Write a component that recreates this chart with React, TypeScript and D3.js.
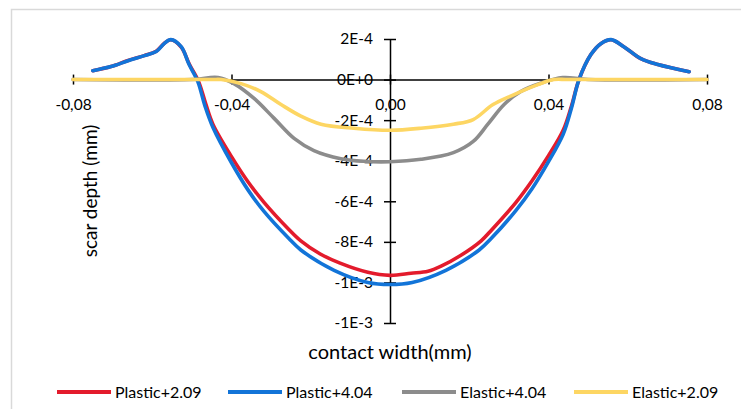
import { useEffect, useRef } from 'react'
import * as d3 from 'd3'

// contact width (mm) vs scar depth (mm)
const plastic209: [number, number][] = [
  [-0.075, 4.4e-5], [-0.0704, 6.4e-5], [-0.0661, 9.4e-5], [-0.062, 1.18e-4], [-0.059, 1.4e-4],
  [-0.057, 1.78e-4], [-0.0553, 1.96e-4], [-0.0527, 1.6e-4], [-0.0506, 7.4e-5], [-0.0483, -1e-5],
  [-0.0465, -1.2e-4], [-0.0447, -2.2e-4], [-0.04, -3.8e-4], [-0.0358, -5.05e-4], [-0.0318, -6.05e-4],
  [-0.0257, -7.35e-4], [-0.0225, -7.95e-4], [-0.0176, -8.6e-4], [-0.0126, -9.05e-4], [-0.0056, -9.5e-4],
  [0, -9.65e-4], [0.0053, -9.55e-4], [0.0096, -9.45e-4], [0.0129, -9.2e-4], [0.018, -8.65e-4],
  [0.023, -7.95e-4], [0.0257, -7.4e-4], [0.0318, -6.05e-4], [0.0358, -5.0e-4], [0.04, -3.75e-4],
  [0.0437, -2.5e-4], [0.0458, -1.3e-4], [0.0477, 0], [0.0507, 1.23e-4], [0.0532, 1.77e-4],
  [0.0558, 1.96e-4], [0.059, 1.62e-4], [0.0633, 1.03e-4], [0.0676, 7.4e-5], [0.0755, 3.9e-5],
]
const plastic404: [number, number][] = [
  [-0.075, 4.4e-5], [-0.0704, 6.4e-5], [-0.0661, 9.3e-5], [-0.062, 1.18e-4], [-0.059, 1.38e-4],
  [-0.057, 1.77e-4], [-0.0553, 1.97e-4], [-0.0527, 1.62e-4], [-0.0507, 7.4e-5], [-0.0485, -1e-5],
  [-0.0467, -1.3e-4], [-0.0447, -2.35e-4], [-0.04, -4.1e-4], [-0.0358, -5.45e-4], [-0.0318, -6.5e-4],
  [-0.0257, -7.8e-4], [-0.0225, -8.4e-4], [-0.0141, -9.4e-4], [-0.0056, -1.0e-3], [0, -1.01e-3],
  [0.0056, -1.0e-3], [0.0141, -9.4e-4], [0.0225, -8.4e-4], [0.0257, -7.8e-4], [0.0318, -6.45e-4],
  [0.0358, -5.4e-4], [0.04, -4.05e-4], [0.0437, -2.7e-4], [0.0458, -1.4e-4], [0.0477, 0],
  [0.0507, 1.23e-4], [0.0532, 1.77e-4], [0.0558, 1.97e-4], [0.059, 1.62e-4], [0.0633, 1.03e-4],
  [0.0676, 7.4e-5], [0.0755, 3.9e-5],
]
const elastic404: [number, number][] = [
  [-0.08, 0], [-0.05, 0], [-0.0434, 1e-5], [-0.0394, -2e-5], [-0.0343, -9.3e-5], [-0.0293, -1.9e-4],
  [-0.0242, -2.9e-4], [-0.0192, -3.5e-4], [-0.0124, -3.9e-4], [-0.0066, -4.03e-4], [0, -4.05e-4],
  [0.0078, -3.93e-4], [0.016, -3.6e-4], [0.021, -3.05e-4], [0.0247, -2.2e-4], [0.0288, -1.23e-4],
  [0.033, -5.9e-5], [0.038, -1.8e-5], [0.0436, 1e-5], [0.05, 0], [0.08, 0],
]
const elastic209: [number, number][] = [
  [-0.08, 0], [-0.045, 0], [-0.0426, 0], [-0.0376, -2e-5], [-0.0326, -5.9e-5], [-0.0275, -1.23e-4],
  [-0.0225, -1.8e-4], [-0.0174, -2.2e-4], [-0.0091, -2.4e-4], [0, -2.5e-4], [0.0078, -2.4e-4],
  [0.016, -2.2e-4], [0.021, -1.97e-4], [0.026, -1.23e-4], [0.0313, -7.4e-5], [0.0373, -2.5e-5],
  [0.0414, 0], [0.045, 0], [0.08, 0],
]

const seriesNames = ['Plastic+2.09', 'Plastic+4.04', 'Elastic+4.04', 'Elastic+2.09']
const seriesColors = ['#e31b2c', '#1274d8', '#8c8c8c', '#fdd663']
const seriesData = [plastic209, plastic404, elastic404, elastic209]

const xTicks = [-0.08, -0.04, 0, 0.04, 0.08]
const xTickLabels = ['-0,08', '-0,04', '0,00', '0,04', '0,08']
const yTicks = [2e-4, 0, -2e-4, -4e-4, -6e-4, -8e-4, -1e-3, -1.2e-3]
const yTickLabels = ['2E-4', '0E+0', '-2E-4', '-4E-4', '-6E-4', '-8E-4', '-1E-3', '-1E-3']

const legendX = [57, 228, 402, 574]
const font = 'Lato, "Open Sans", sans-serif'

export default function App() {
  const ref = useRef<SVGSVGElement>(null)

  useEffect(() => {
    const svg = d3.select(ref.current)
    svg.selectAll('*').remove()
    const width = 741
    const height = 409

    svg.append('rect')
      .attr('x', 11.5).attr('y', 9.5)
      .attr('width', width).attr('height', height)
      .attr('fill', '#fff').attr('stroke', '#d9d9d9').attr('stroke-width', 1.5)

    const x = d3.scaleLinear().domain([-0.08, 0.08]).range([73, 707])
    const y = d3.scaleLinear().domain([2e-4, -1.2e-3]).range([39, 323])

    // x axis through zero, cross ticks
    const gx = svg.append('g')
      .attr('transform', `translate(0,${y(0)})`)
      .call(d3.axisBottom(x).tickValues(xTicks).tickSizeOuter(0)
        .tickFormat((_, i) => xTickLabels[i]))
    gx.select('.domain').attr('stroke', '#000').attr('stroke-width', 1.5)
    gx.selectAll('.tick line').attr('y1', -5).attr('y2', 5).attr('stroke', '#000').attr('stroke-width', 1.5)
    gx.selectAll('.tick text')
      .attr('y', 30).attr('dy', 0)
      .attr('font-family', font).attr('font-size', 15.5).attr('fill', '#000')

    // y axis through zero
    const gy = svg.append('g')
      .attr('transform', `translate(${x(0)},0)`)
      .call(d3.axisLeft(y).tickValues(yTicks).tickSizeOuter(0)
        .tickFormat((_, i) => yTickLabels[i]))
    gy.select('.domain').attr('stroke', '#000').attr('stroke-width', 1.5)
    gy.selectAll('.tick line').attr('x1', -6).attr('x2', 6).attr('stroke', '#000').attr('stroke-width', 1.5)
    gy.selectAll('.tick text')
      .attr('x', -17)
      .attr('font-family', font).attr('font-size', 15.5).attr('fill', '#000')

    const line = d3.line<[number, number]>()
      .x((d) => x(d[0]))
      .y((d) => y(d[1]))
      .curve(d3.curveCatmullRom.alpha(0.5))

    svg.append('g')
      .selectAll('path')
      .data(seriesData)
      .join('path')
      .attr('d', (d) => line(d))
      .attr('fill', 'none')
      .attr('stroke', (_, i) => seriesColors[i])
      .attr('stroke-width', 3.6)
      .attr('stroke-linejoin', 'round')
      .attr('stroke-linecap', 'round')

    svg.append('text')
      .attr('x', x(0)).attr('y', 359)
      .attr('text-anchor', 'middle')
      .attr('font-family', font).attr('font-size', 20)
      .text('contact width(mm)')

    svg.append('text')
      .attr('transform', 'translate(97,191) rotate(-90)')
      .attr('text-anchor', 'middle')
      .attr('font-family', font).attr('font-size', 19)
      .text('scar depth (mm)')

    const legend = svg.append('g')
      .selectAll('g')
      .data(seriesNames)
      .join('g')
      .attr('transform', (_, i) => `translate(${legendX[i]},392)`)
    legend.append('line')
      .attr('x1', 0).attr('x2', 54)
      .attr('stroke', (_, i) => seriesColors[i])
      .attr('stroke-width', 4)
    legend.append('text')
      .attr('x', 58).attr('dy', '0.35em')
      .attr('font-family', font).attr('font-size', 16)
      .text((d) => d)
  }, [])

  return (
    <svg
      ref={ref}
      width={741}
      height={409}
      style={{ position: 'fixed', left: 0, top: 0, display: 'block' }}
    />
  )
}
